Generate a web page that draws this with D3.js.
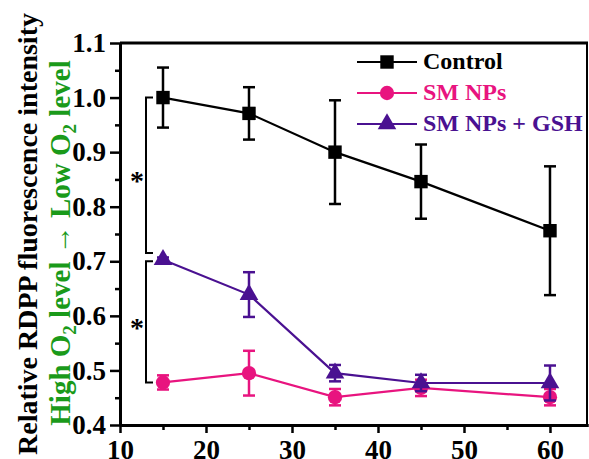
<!DOCTYPE html>
<html>
<head>
<meta charset="utf-8">
<script src="https://cdn.jsdelivr.net/npm/d3@7"></script>
<style>
  body { margin: 0; background: #fff; }
  svg { display: block; }
</style>
</head>
<body>
<svg width="589" height="459"></svg>
<script>
const times = [15, 25, 35, 45, 60];
const control = [1.0, 0.971, 0.900, 0.846, 0.756];
const controlErr = [0.055, 0.048, 0.095, 0.068, 0.118];
const smNPs = [0.478, 0.495, 0.451, 0.468, 0.451];
const smNPsErr = [0.013, 0.041, 0.015, 0.015, 0.015];
const smGSH = [0.703, 0.639, 0.495, 0.477, 0.477];
const smGSHErr = [0.004, 0.041, 0.015, 0.015, 0.032];
const xTicks = [10, 20, 30, 40, 50, 60];
const yTicks = [0.4, 0.5, 0.6, 0.7, 0.8, 0.9, 1.0, 1.1];

const series = [
  { name: 'Control', color: '#000000', symbol: d3.symbolSquare, size: 180, values: control, err: controlErr },
  { name: 'SM NPs', color: '#e8147f', symbol: d3.symbolCircle, size: 160, values: smNPs, err: smNPsErr },
  { name: 'SM NPs + GSH', color: '#4a1191', symbol: d3.symbolTriangle, size: 150, values: smGSH, err: smGSHErr }
];

const serif = '"Liberation Serif", "Times New Roman", serif';
const svg = d3.select('svg').attr('font-family', serif).attr('font-weight', 'bold');
const plotLeft = 120, plotRight = 588, plotTop = 43, plotBottom = 425;

const x = d3.scaleLinear().domain([10, 64.42]).range([plotLeft, plotRight]);
const y = d3.scaleLinear().domain([0.4, 1.1]).range([plotBottom, plotTop]);

// frame
svg.append('line').attr('x1', plotLeft).attr('x2', plotRight).attr('y1', plotTop).attr('y2', plotTop)
  .attr('stroke', '#000').attr('stroke-width', 3);
svg.append('line').attr('x1', plotRight - 1).attr('x2', plotRight - 1).attr('y1', plotTop).attr('y2', plotBottom)
  .attr('stroke', '#000').attr('stroke-width', 2);

// axes
const xAxis = svg.append('g').attr('transform', `translate(0,${plotBottom})`)
  .call(d3.axisBottom(x).tickValues(xTicks).tickFormat(d3.format('d')).tickSize(8).tickSizeOuter(0));
const xMinor = svg.append('g').attr('transform', `translate(0,${plotBottom})`)
  .call(d3.axisBottom(x).tickValues([15, 25, 35, 45, 55]).tickFormat('').tickSize(5).tickSizeOuter(0));
const yAxis = svg.append('g').attr('transform', `translate(${plotLeft},0)`)
  .call(d3.axisLeft(y).tickValues(yTicks).tickFormat(d3.format('.1f')).tickSize(10).tickSizeOuter(0));
const yMinor = svg.append('g').attr('transform', `translate(${plotLeft},0)`)
  .call(d3.axisLeft(y).tickValues([0.45, 0.55, 0.65, 0.75, 0.85, 0.95, 1.05]).tickFormat('').tickSize(5).tickSizeOuter(0));

[xAxis, xMinor, yAxis, yMinor].forEach(a => {
  a.attr('font-family', serif).attr('font-weight', 'bold');
  a.select('.domain').attr('stroke-width', 3);
  a.selectAll('.tick line').attr('stroke-width', 2.5);
  a.selectAll('text').attr('font-size', 27).attr('fill', '#000');
});
xAxis.selectAll('text').attr('dy', '0.86em');
yAxis.selectAll('text').attr('x', -14);

// series
const line = d3.line().x((d, i) => x(times[i])).y(d => y(d));
series.forEach(s => {
  const g = svg.append('g');
  g.append('path').attr('d', line(s.values)).attr('fill', 'none')
    .attr('stroke', s.color).attr('stroke-width', 2.2);
  s.values.forEach((v, i) => {
    const cx = x(times[i]);
    const y1 = y(v + s.err[i]), y2 = y(v - s.err[i]);
    g.append('line').attr('x1', cx).attr('x2', cx).attr('y1', y1).attr('y2', y2)
      .attr('stroke', s.color).attr('stroke-width', 2.5);
    [y1, y2].forEach(yy => g.append('line').attr('x1', cx - 6).attr('x2', cx + 6)
      .attr('y1', yy).attr('y2', yy).attr('stroke', s.color).attr('stroke-width', 2.5));
    g.append('path').attr('d', d3.symbol().type(s.symbol).size(s.size)())
      .attr('transform', `translate(${cx},${y(v)})`).attr('fill', s.color);
  });
});

// significance brackets
const brackets = [[1.0, 0.715], [0.70, 0.478]];
brackets.forEach(([a, b]) => {
  svg.append('path')
    .attr('d', `M153,${y(a)}H146V${y(b)}H153`)
    .attr('fill', 'none').attr('stroke', '#000').attr('stroke-width', 2);
  svg.append('text').attr('x', 137).attr('y', y((a + b) / 2) + 15)
    .attr('text-anchor', 'middle').attr('font-size', 28).text('*');
});

// legend
series.forEach((s, i) => {
  const ly = 62 + i * 31;
  svg.append('line').attr('x1', 357).attr('x2', 417).attr('y1', ly).attr('y2', ly)
    .attr('stroke', s.color).attr('stroke-width', 2.2);
  svg.append('path').attr('d', d3.symbol().type(s.symbol).size(s.size)())
    .attr('transform', `translate(387,${ly})`).attr('fill', s.color);
  svg.append('text').attr('x', 423).attr('y', ly + 7).attr('font-size', 24)
    .attr('fill', s.color).text(s.name);
});

// y titles
svg.append('text').attr('transform', 'translate(37,234) rotate(-90)')
  .attr('text-anchor', 'middle').attr('font-size', 28).attr('fill', '#000')
  .text('Relative RDPP fluorescence intensity');

const green = svg.append('text').attr('transform', 'translate(70,243) rotate(-90)')
  .attr('text-anchor', 'middle').attr('font-size', 29).attr('fill', '#1a9a1a');
green.append('tspan').text('High O');
green.append('tspan').attr('font-size', 19).attr('dy', 6).text('2');
green.append('tspan').attr('dy', -6).text(' level \u2192 Low O');
green.append('tspan').attr('font-size', 19).attr('dy', 6).text('2');
green.append('tspan').attr('dy', -6).text(' level');
</script>
</body>
</html>
